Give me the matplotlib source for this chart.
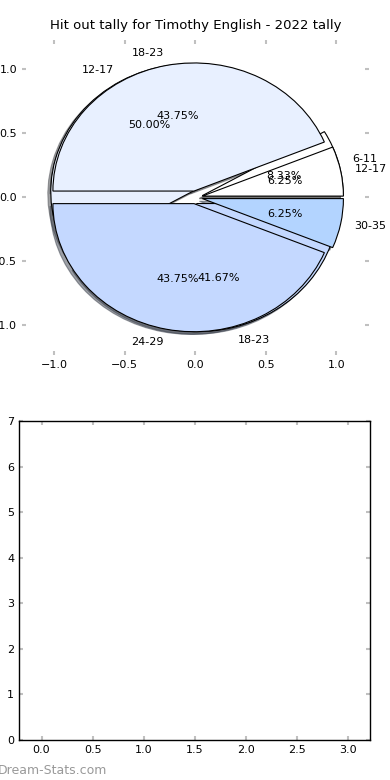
import matplotlib
matplotlib.use("Agg")
import matplotlib.pyplot as plt

# Datos
title = "Hit out tally for Timothy English - 2022 tally"
labels_a = ["6-11", "12-17", "18-23"]
counts_a = [1, 6, 5]
labels_b = ["12-17", "18-23", "24-29", "30-35"]
counts_b = [1, 7, 7, 1]
colors = ["#ffffff", "#e8f0ff", "#c4d8ff", "#b3d4ff"]

plt.rcParams["font.family"] = "DejaVu Sans"
plt.rcParams["font.size"] = 8

fig = plt.figure(figsize=(3.9, 7.8), dpi=100)

# Grafico de tarta (dos tartas superpuestas)
ax1 = fig.add_axes([0.056, 0.545, 0.890, 0.404])
sombra = {"ox": -0.015, "oy": -0.015}
ax1.pie(counts_a, labels=labels_a, colors=colors[:len(counts_a)],
        autopct="%1.2f%%", explode=[0.05] * len(counts_a), shadow=sombra,
        wedgeprops={"edgecolor": "black", "linewidth": 0.8},
        textprops={"fontsize": 8})
ax1.pie(counts_b, labels=labels_b, colors=colors[:len(counts_b)],
        autopct="%1.2f%%", explode=[0.05] * len(counts_b), shadow=sombra,
        wedgeprops={"edgecolor": "black", "linewidth": 0.8},
        textprops={"fontsize": 8})
ax1.set_aspect("auto")
ax1.set_xlim(-1.23, 1.23)
ax1.set_ylim(-1.23, 1.23)
ax1.set_xticks([-1.0, -0.5, 0.0, 0.5, 1.0])
ax1.set_yticks([-1.0, -0.5, 0.0, 0.5, 1.0])
ax1.set_xticklabels(["\u22121.0", "\u22120.5", "0.0", "0.5", "1.0"])
ax1.set_yticklabels(["\u22121.0", "\u22120.5", "0.0", "0.5", "1.0"])
ax1.tick_params(direction="in", length=3, width=1.5, color="#c0c0c0",
                top=True, right=True, labelsize=8)
ax1.set_title(title, fontsize=9.5, pad=8)

# Eje inferior vacio
ax2 = fig.add_axes([0.049, 0.0513, 0.900, 0.409])
ax2.set_xlim(-0.22, 3.22)
ax2.set_ylim(0, 7)
ax2.set_xticks([0.0, 0.5, 1.0, 1.5, 2.0, 2.5, 3.0])
ax2.set_yticks(range(0, 8))
ax2.tick_params(direction="in", length=3, width=1.5, color="#c0c0c0",
                top=True, right=True, labelsize=8)
for s in ax2.spines.values():
    s.set_linewidth(1.0)

fig.text(-0.005, 0.008, "Dream-Stats.com", color="#999999", fontsize=9)

fig.savefig("out.png", dpi=100)
